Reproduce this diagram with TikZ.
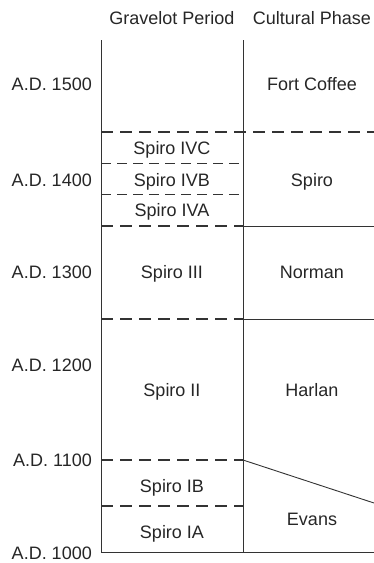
\documentclass[tikz,border=0pt]{standalone}
\usepackage{fontspec}
\setmainfont{Liberation Sans}
\begin{document}
\begin{tikzpicture}[x=1pt,y=-1pt,
  lbl/.style={inner sep=0pt,text height=12.9pt,text depth=0pt,text=black!85,font=\fontsize{18}{20}\selectfont},
  yr/.style={lbl,anchor=east},
  solidln/.style={draw=black!80,line width=0.9pt},
  dashA/.style={draw=black!80,line width=1.3pt,dash pattern=on 12pt off 7pt},
  dashB/.style={draw=black!80,line width=1pt,dash pattern=on 10pt off 6pt}]
\useasboundingbox (0,0) rectangle (374,563);
% columns
\coordinate (L) at (101,40);
\coordinate (M) at (243,40);
\coordinate (R) at (374,40);
\coordinate (Lb) at (101,552);
\coordinate (Mb) at (243,552);
\coordinate (Rb) at (374,552);
\draw[solidln] (L) -- (Lb) -- (Rb);
\draw[solidln] (M) -- (Mb);
% boundaries
\draw[dashA] (101,132) -- (374,132);
\draw[dashB] (101,163) -- (243,163);
\draw[dashB] (101,194) -- (243,194);
\draw[dashA] (101,226) -- (243,226);
\draw[solidln] (243,226) -- (374,226);
\draw[dashA] (101,319) -- (243,319);
\draw[solidln] (243,319) -- (374,319);
\draw[dashA] (101,460) -- (243,460);
\coordinate (s1) at (243,460);
\coordinate (s2) at (374,503);
\draw[solidln] (s1) -- (s2);
\draw[dashA] (101,506) -- (243,506);
% headers
\node[lbl] (h1) at (172,18) {Gravelot Period};
\node[lbl] (h2) at (312,18) {Cultural Phase};
% years
\node[yr] (y15) at (92,84) {A.D. 1500};
\node[yr] (y14) at (92,180) {A.D. 1400};
\node[yr] (y13) at (92,272) {A.D. 1300};
\node[yr] (y12) at (92,365) {A.D. 1200};
\node[yr] (y11) at (92,460) {A.D. 1100};
\node[yr] (y10) at (92,553) {A.D. 1000};
% gravelot periods
\node[lbl] (p4c) at (172,148) {Spiro IVC};
\node[lbl] (p4b) at (172,180) {Spiro IVB};
\node[lbl] (p4a) at (172,210) {Spiro IVA};
\node[lbl] (p3) at (172,272) {Spiro III};
\node[lbl] (p2) at (172,390) {Spiro II};
\node[lbl] (p1b) at (172,486) {Spiro IB};
\node[lbl] (p1a) at (172,532) {Spiro IA};
% cultural phases
\node[lbl] (c1) at (312,84) {Fort Coffee};
\node[lbl] (c2) at (312,180) {Spiro};
\node[lbl] (c3) at (312,272) {Norman};
\node[lbl] (c4) at (312,390) {Harlan};
\node[lbl] (c5) at (312,519) {Evans};
\end{tikzpicture}
\end{document}
